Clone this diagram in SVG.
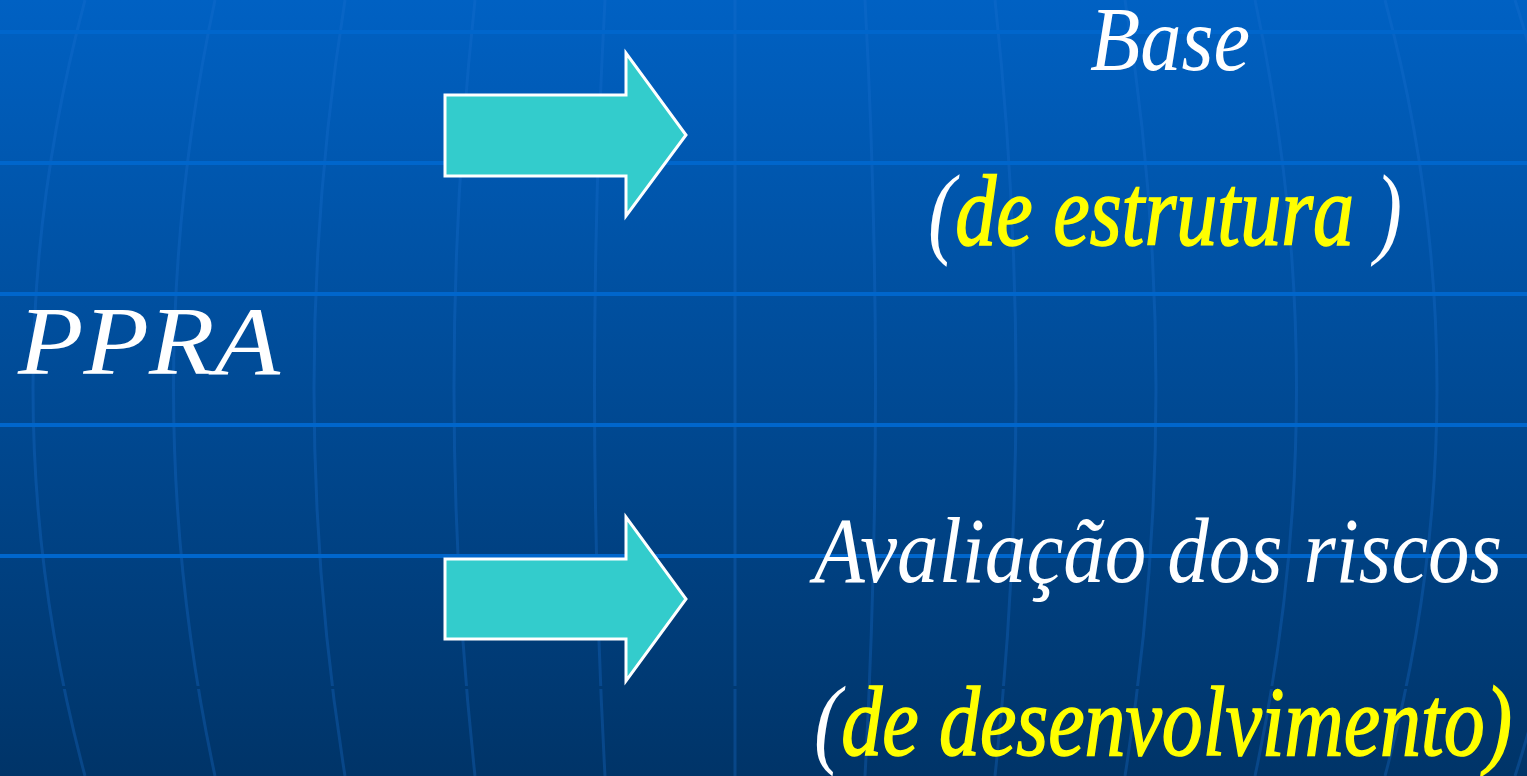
<svg xmlns="http://www.w3.org/2000/svg" width="1527" height="776" viewBox="0 0 1527 776">
<defs>
<linearGradient id="bg" x1="0" y1="0" x2="0" y2="776" gradientUnits="userSpaceOnUse">
<stop offset="0" stop-color="#0061c3"/>
<stop offset="1" stop-color="#003468"/>
</linearGradient>
<style>
.hl{stroke:#0066cc;stroke-width:4;fill:none}
.vl{stroke:#1a70d0;stroke-opacity:0.3;stroke-width:3;fill:none}
.arrow{fill:#33cccc;stroke:#ffffff;stroke-width:3;stroke-linejoin:miter}
.t{font-family:"Liberation Serif","DejaVu Serif",serif;font-style:italic}
.w{fill:#ffffff}
.y{fill:#ffff00;stroke:#ffff00;stroke-width:1.6}
</style>
</defs>
<g id="background">
<rect x="0" y="0" width="1527" height="776" fill="url(#bg)"/>
<path class="vl" d="M-45 0 Q-170 388 -45 776"/>
<path class="vl" d="M85 0 Q-19 388 85 776"/>
<path class="vl" d="M215 0 Q132 388 215 776"/>
<path class="vl" d="M345 0 Q283 388 345 776"/>
<path class="vl" d="M475 0 Q433 388 475 776"/>
<path class="vl" d="M605 0 Q584 388 605 776"/>
<path class="vl" d="M735 0 L735 776"/>
<path class="vl" d="M865 0 Q886 388 865 776"/>
<path class="vl" d="M995 0 Q1037 388 995 776"/>
<path class="vl" d="M1125 0 Q1187 388 1125 776"/>
<path class="vl" d="M1255 0 Q1338 388 1255 776"/>
<path class="vl" d="M1385 0 Q1489 388 1385 776"/>
<path class="vl" d="M1515 0 Q1640 388 1515 776"/>
<rect x="0" y="686" width="1527" height="3" fill="url(#bg)"/>
<line class="hl" x1="0" y1="32" x2="1527" y2="32"/>
<line class="hl" x1="0" y1="163" x2="1527" y2="163"/>
<line class="hl" x1="0" y1="294" x2="1527" y2="294"/>
<line class="hl" x1="0" y1="425" x2="1527" y2="425"/>
<line class="hl" x1="0" y1="556" x2="1527" y2="556"/>
</g>
<g id="connectors">
<polygon class="arrow" points="445,95 626,95 626,53 686,135 626,216 626,176 445,176"/>
<polygon class="arrow" points="445,559 626,559 626,517 686,599 626,681 626,639 445,639"/>
</g>
<g id="node-ppra">
<text class="t w" x="18" y="374" font-size="98" textLength="262" lengthAdjust="spacingAndGlyphs">PPRA</text>
</g>
<g id="node-base">
<text class="t w" x="1090" y="70" font-size="92" textLength="160" lengthAdjust="spacingAndGlyphs">Base</text>
<text class="t" x="928" y="245" font-size="102" textLength="474" lengthAdjust="spacingAndGlyphs"><tspan class="w">(</tspan><tspan class="y">de estrutura</tspan><tspan class="w"> )</tspan></text>
</g>
<g id="node-avaliacao">
<text class="t w" x="814" y="582" font-size="94" textLength="688" lengthAdjust="spacingAndGlyphs">Avaliação dos riscos</text>
<text class="t" x="814" y="755" font-size="100" textLength="698" lengthAdjust="spacingAndGlyphs"><tspan class="w">(</tspan><tspan class="y">de desenvolvimento)</tspan></text>
</g>
</svg>
